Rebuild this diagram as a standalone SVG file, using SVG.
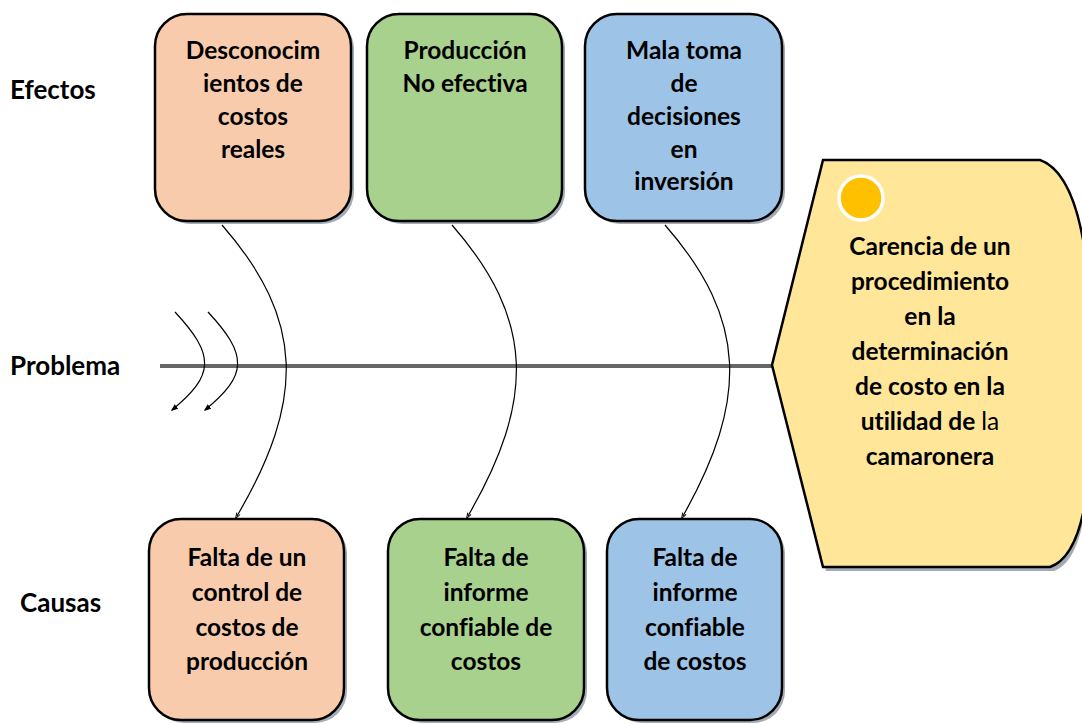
<svg xmlns="http://www.w3.org/2000/svg" width="1082" height="724" viewBox="0 0 1082 724">
<style>
.box{stroke:#000;stroke-width:2.5}
.sh{fill:#8c96a3;opacity:0.8}
.t{font-family:Lato,"Liberation Sans",sans-serif;font-weight:bold;font-size:24.5px;fill:#000;text-anchor:middle;font-variant-ligatures:none}
.lbl{font-family:Lato,"Liberation Sans",sans-serif;font-weight:bold;font-size:26px;fill:#000}
.c{fill:none;stroke:#000;stroke-width:1.2}
</style>
<defs>
<marker id="ah" viewBox="0 0 10 10" refX="8" refY="5" markerWidth="6" markerHeight="6" orient="auto-start-reverse">
<path d="M0,1 L10,5 L0,9 z" fill="#000"/>
</marker>
<marker id="tk" viewBox="0 0 10 10" refX="5" refY="5" markerWidth="8" markerHeight="8" orient="auto">
<path d="M2,3 L8,5 L2,7" fill="none" stroke="#000" stroke-width="1"/>
</marker>
</defs>
<rect width="1082" height="724" fill="#fff"/>
<text class="lbl" x="10" y="99">Efectos</text>
<text class="lbl" x="10" y="375">Problema</text>
<text class="lbl" x="20" y="612">Causas</text>
<g id="connectors">
<line x1="160" y1="366" x2="772" y2="366" stroke="#666" stroke-width="4"/>
<path class="c" d="M222,225 C305,320 305,400 237,516" marker-end="url(#tk)"/>
<path class="c" d="M452,225 C535,320 535,400 468,516" marker-end="url(#tk)"/>
<path class="c" d="M665,225 C748,320 748,400 683,516" marker-end="url(#tk)"/>
<path class="c" d="M175,312 C215,355 215,375 172,410" marker-end="url(#ah)"/>
<path class="c" d="M208,312 C248,355 248,375 205,410" marker-end="url(#ah)"/>
</g>
<g id="efecto1">
<rect class="sh" x="158" y="17" width="196" height="207" rx="32"/>
<rect class="box" x="155" y="14" width="196" height="207" rx="32" fill="#F8CBAD"/>
<text class="t" x="253" y="59">Desconocim</text>
<text class="t" x="253" y="92">ientos de</text>
<text class="t" x="253" y="125">costos</text>
<text class="t" x="253" y="158">reales</text>
</g>
<g id="efecto2">
<rect class="sh" x="370" y="17" width="195" height="207" rx="32"/>
<rect class="box" x="367" y="14" width="195" height="207" rx="32" fill="#A9D18E"/>
<text class="t" x="465" y="59">Producción</text>
<text class="t" x="465" y="92">No efectiva</text>
</g>
<g id="efecto3">
<rect class="sh" x="588" y="17" width="197" height="207" rx="32"/>
<rect class="box" x="585" y="14" width="197" height="207" rx="32" fill="#9DC3E6"/>
<text class="t" x="684" y="59">Mala toma</text>
<text class="t" x="684" y="92">de</text>
<text class="t" x="684" y="125">decisiones</text>
<text class="t" x="684" y="158">en</text>
<text class="t" x="684" y="190">inversión</text>
</g>
<g id="causa1">
<rect class="sh" x="152" y="522" width="195" height="201" rx="32"/>
<rect class="box" x="149" y="519" width="195" height="201" rx="32" fill="#F8CBAD"/>
<text class="t" x="247" y="566">Falta de un</text>
<text class="t" x="247" y="601">control de</text>
<text class="t" x="247" y="636">costos de</text>
<text class="t" x="247" y="670">producción</text>
</g>
<g id="causa2">
<rect class="sh" x="391" y="522" width="196" height="201" rx="32"/>
<rect class="box" x="388" y="519" width="196" height="201" rx="32" fill="#A9D18E"/>
<text class="t" x="486" y="566">Falta de</text>
<text class="t" x="486" y="601">informe</text>
<text class="t" x="486" y="636">confiable de</text>
<text class="t" x="486" y="670">costos</text>
</g>
<g id="causa3">
<rect class="sh" x="610" y="522" width="175" height="201" rx="32"/>
<rect class="box" x="607" y="519" width="175" height="201" rx="32" fill="#9DC3E6"/>
<text class="t" x="695" y="566">Falta de</text>
<text class="t" x="695" y="601">informe</text>
<text class="t" x="695" y="636">confiable</text>
<text class="t" x="695" y="670">de costos</text>
</g>
<g id="problema">
<path d="M826,164 L1044,164 Q1086,190 1090,300 L1090,460 Q1086,560 1054,571 L826,571 L775,369 Z" fill="#8c96a3" opacity="0.8"/>
<path d="M823,160 L1040,160 Q1082,175 1090,300 L1090,460 Q1084,555 1050,567 L823,567 L772,365 Z" fill="#FFE699" stroke="#000" stroke-width="2.5"/>
<circle cx="861" cy="198" r="22" fill="#FFC000" stroke="#fff" stroke-width="3.5"/>
<text class="t" x="930" y="255">Carencia de un</text>
<text class="t" x="930" y="290">procedimiento</text>
<text class="t" x="930" y="325">en la</text>
<text class="t" x="930" y="360">determinación</text>
<text class="t" x="930" y="395">de costo en la</text>
<text class="t" x="930" y="430">utilidad de <tspan font-weight="normal">la</tspan></text>
<text class="t" x="930" y="465">camaronera</text>
</g>
</svg>
